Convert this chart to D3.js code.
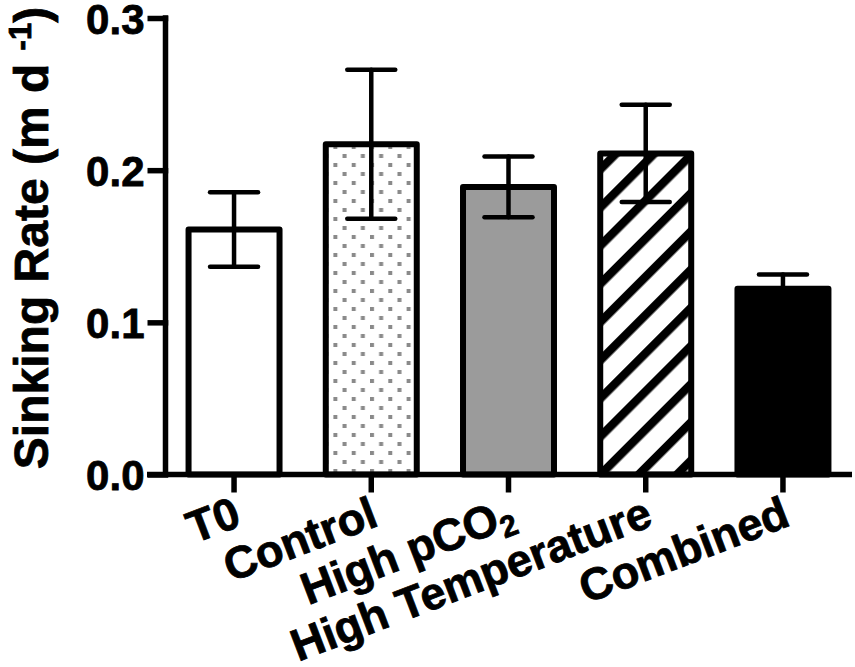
<!DOCTYPE html>
<html>
<head>
<meta charset="utf-8">
<script src="https://cdn.jsdelivr.net/npm/d3@7"></script>
<style>
  html, body { margin: 0; padding: 0; background: #fff; }
  svg { display: block; }
  text { font-family: "Liberation Sans", Arial, Helvetica, sans-serif; font-weight: bold; fill: #000; stroke: #000; stroke-width: 0.8px; }
</style>
</head>
<body>
<svg id="chart" width="855" height="667"></svg>
<script>
// ---- data ----
const categories = ["T0", "Control", "High pCO2", "High Temperature", "Combined"];
const means      = [0.161, 0.217, 0.189, 0.211, 0.122];
const errors     = [0.0245, 0.049, 0.020, 0.032, 0.0095];
const fills      = ["white", "url(#dots)", "#9b9b9b", "url(#hatch)", "#000"];
const yTicks     = [0.0, 0.1, 0.2, 0.3];
const yTitle     = "Sinking Rate";

const svg = d3.select("#chart");

// ---- patterns ----
const defs = svg.append("defs");
const dots = defs.append("pattern").attr("id", "dots")
  .attr("patternUnits", "userSpaceOnUse").attr("width", 18.3).attr("height", 18)
  .attr("x", 4).attr("y", 1);
dots.append("rect").attr("width", 18.3).attr("height", 18).attr("fill", "#fff");
dots.append("rect").attr("x", 0).attr("y", 0).attr("width", 4).attr("height", 4).attr("fill", "#8a8a8a");
dots.append("rect").attr("x", 9.15).attr("y", 9).attr("width", 4).attr("height", 4).attr("fill", "#8a8a8a");

const hatch = defs.append("pattern").attr("id", "hatch")
  .attr("patternUnits", "userSpaceOnUse").attr("width", 27).attr("height", 27)
  .attr("patternTransform", "rotate(45)");
hatch.append("rect").attr("width", 27).attr("height", 27).attr("fill", "#fff");
hatch.append("rect").attr("x", 0).attr("y", 0).attr("width", 8.5).attr("height", 27).attr("fill", "#000");

// ---- scales ----
const x = d3.scaleBand().domain(categories).range([165.5, 851.5])
  .paddingInner(0.337).paddingOuter(0.168);
const y = d3.scaleLinear().domain([0, 0.3]).range([474.5, 18]);

// ---- bars ----
const data = categories.map((c, i) => ({ c, m: means[i], e: errors[i], f: fills[i] }));

svg.append("g").selectAll("rect").data(data).join("rect")
  .attr("x", d => x(d.c))
  .attr("y", d => y(d.m))
  .attr("width", x.bandwidth())
  .attr("height", d => y(0) - y(d.m))
  .attr("fill", d => d.f)
  .attr("stroke", "#000")
  .attr("stroke-width", 6)
  .attr("stroke-linejoin", "round");

// ---- error bars ----
const eg = svg.append("g").attr("stroke", "#000").attr("stroke-width", 4.5).attr("stroke-linecap", "round");
data.forEach(d => {
  const cx = x(d.c) + x.bandwidth() / 2;
  eg.append("line").attr("x1", cx).attr("x2", cx).attr("y1", y(d.m + d.e)).attr("y2", y(d.m - d.e));
  eg.append("line").attr("x1", cx - 24).attr("x2", cx + 24).attr("y1", y(d.m + d.e)).attr("y2", y(d.m + d.e));
  eg.append("line").attr("x1", cx - 24).attr("x2", cx + 24).attr("y1", y(d.m - d.e)).attr("y2", y(d.m - d.e));
});

// ---- y axis ----
const yAxis = d3.axisLeft(y).tickValues(yTicks).tickFormat(d3.format(".1f"))
  .tickSize(18).tickSizeOuter(0).tickPadding(3);
const yg = svg.append("g").attr("transform", "translate(165.5,0)").call(yAxis);
yg.select(".domain").attr("stroke-width", 5.5).attr("d", `M0,${y(0.3) - 2.75}V${y(0) + 2.5}`);
yg.selectAll(".tick line").attr("stroke-width", 5.5).attr("x1", 2.75);
yg.selectAll(".tick text").style("font-size", "42px").attr("dy", "0.36em");

// ---- x axis ----
const xAxis = d3.axisBottom(x).tickSize(18).tickSizeOuter(0).tickFormat("");
const xg = svg.append("g").attr("transform", `translate(0,${y(0)})`).call(xAxis);
xg.select(".domain").attr("stroke-width", 5.5).attr("d", `M147,0H852`);
xg.selectAll(".tick line").attr("stroke-width", 5.5);

// rotated category labels
const lg = svg.append("g");
categories.forEach(c => {
  const cx = x(c) + x.bandwidth() / 2;
  const t = lg.append("text")
    .attr("text-anchor", "end")
    .attr("transform", `translate(${cx + 9},525) rotate(-21)`)
    .style("font-size", "45px");
  if (c === "High pCO2") {
    t.append("tspan").text("High pCO");
    t.append("tspan").text("2").style("font-size", "30px").attr("dy", 8);
  } else {
    t.text(c);
  }
});

// ---- y title ----
const yt = svg.append("text")
  .attr("text-anchor", "middle")
  .attr("transform", "translate(48,238) rotate(-90)")
  .style("font-size", "48px");
yt.append("tspan").text(yTitle + " (m d ");
yt.append("tspan").text("-1").style("font-size", "31px").attr("dy", -17);
yt.append("tspan").text(")").attr("dy", 17);
</script>
</body>
</html>
